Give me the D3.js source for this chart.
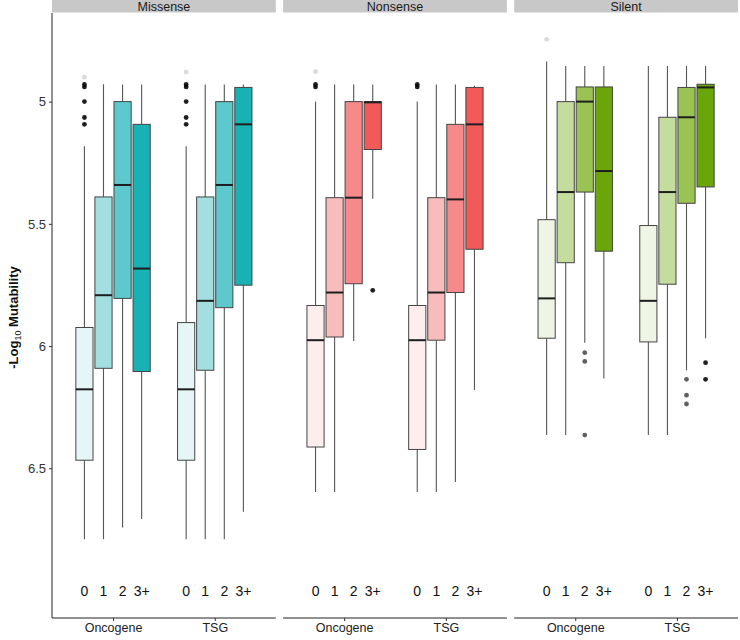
<!DOCTYPE html>
<html><head><meta charset="utf-8">
<script src="https://cdn.jsdelivr.net/npm/d3@7"></script>
<style>body{margin:0;background:#fff}svg{display:block}</style>
</head><body>
<svg id="chart" width="740" height="640"></svg>
<script>
// ---- data ----
const facets = ["Missense", "Nonsense", "Silent"];
const genes = ["Oncogene", "TSG"];
const levels = ["0", "1", "2", "3+"];
const yTicks = [5, 5.5, 6, 6.5];
const levelLabelValue = 7.0;

// [whiskerLow(value), q1, median, q3, whiskerHigh(value)], order: Oncogene 0..3+, TSG 0..3+
const missenseStats = [
  [5.183, 5.924, 6.177, 6.467, 6.79],
  [4.929, 5.390, 5.792, 6.091, 6.79],
  [4.930, 5.000, 5.341, 5.805, 6.742],
  [4.930, 5.093, 5.683, 6.104, 6.708],
  [5.183, 5.904, 6.177, 6.467, 6.79],
  [4.930, 5.390, 5.815, 6.099, 6.79],
  [4.930, 5.000, 5.341, 5.843, 6.79],
  [4.930, 4.942, 5.093, 5.751, 6.678]
];
const nonsenseStats = [
  [5.000, 5.834, 5.976, 6.413, 6.597],
  [4.930, 5.393, 5.781, 5.963, 6.597],
  [4.930, 5.000, 5.393, 5.745, 5.979],
  [4.930, 5.000, 5.003, 5.196, 5.397],
  [5.000, 5.834, 5.976, 6.423, 6.597],
  [4.930, 5.393, 5.781, 5.976, 6.597],
  [4.930, 5.093, 5.400, 5.781, 6.556],
  [4.935, 4.942, 5.093, 5.604, 6.180]
];
const silentStats = [
  [4.836, 5.483, 5.805, 5.968, 6.364],
  [4.854, 5.000, 5.370, 5.659, 6.364],
  [4.854, 4.940, 5.000, 5.370, 5.986],
  [4.854, 4.940, 5.284, 5.612, 6.133],
  [4.854, 5.507, 5.815, 5.983, 6.364],
  [4.854, 5.064, 5.370, 5.747, 6.364],
  [4.854, 4.942, 5.064, 5.416, 6.099],
  [4.854, 4.929, 4.942, 5.349, 5.968]
];
// outliers: [gene, level, value, overlapping count]
const missenseOutliers = [
  ["Oncogene","0",4.900,1],["Oncogene","0",4.930,13],["Oncogene","0",4.940,13],
  ["Oncogene","0",5.000,13],["Oncogene","0",5.065,13],["Oncogene","0",5.093,13],
  ["TSG","0",4.879,1],["TSG","0",4.930,13],["TSG","0",4.940,13],
  ["TSG","0",5.000,13],["TSG","0",5.065,13],["TSG","0",5.093,13]
];
const nonsenseOutliers = [
  ["Oncogene","0",4.877,1],["Oncogene","0",4.930,13],["Oncogene","0",4.940,13],
  ["Oncogene","3+",5.772,13],
  ["TSG","0",4.930,13],["TSG","0",4.940,13]
];
const silentOutliers = [
  ["Oncogene","0",4.745,1],
  ["Oncogene","2",6.027,6],["Oncogene","2",6.063,6],["Oncogene","2",6.364,6],
  ["TSG","2",6.136,6],["TSG","2",6.201,6],["TSG","2",6.237,6],
  ["TSG","3+",6.068,13],["TSG","3+",6.136,13]
];
const missenseColors = ["#e6f6f6", "#a3dfe0", "#5dc9cc", "#18b2b5"];
const nonsenseColors = ["#fdeded", "#f8bcbc", "#f68a8a", "#f25a5a"];
const silentColors   = ["#eef5e4", "#c5dc9f", "#9ac353", "#6aa50a"];

const facetData = [
  {name: facets[0], stats: missenseStats, outliers: missenseOutliers, colors: missenseColors},
  {name: facets[1], stats: nonsenseStats, outliers: nonsenseOutliers, colors: nonsenseColors},
  {name: facets[2], stats: silentStats, outliers: silentOutliers, colors: silentColors}
];

// ---- layout ----
const svg = d3.select("#chart");
const font = "'Liberation Sans', Arial, Helvetica, sans-serif";
const mLeft = 52, mRight = 738, mTop = 13, mBottom = 618, gap = 7.3;
const pw = (mRight - mLeft - 2 * gap) / 3;

const y = d3.scaleLinear().domain([4.6375, 7.1125]).range([mTop, mBottom]);

// Y axis
const yAxis = svg.append("g").attr("transform", `translate(${mLeft},0)`)
  .call(d3.axisLeft(y).tickValues(yTicks).tickSize(3).tickPadding(3).tickFormat(d3.format("")));
yAxis.select(".domain").attr("d", `M0,${mTop}V${mBottom}`).attr("stroke", "#222");
yAxis.selectAll(".tick line").attr("stroke", "#333");
yAxis.selectAll(".tick text").attr("font-family", font).attr("font-size", 13).attr("fill", "#333");

// Y title
const yt = svg.append("text")
  .attr("transform", `translate(18,${(mTop + mBottom) / 2 + 2}) rotate(-90)`)
  .attr("text-anchor", "middle").attr("font-family", font).attr("font-weight", "bold")
  .attr("font-size", 13).attr("fill", "#111");
yt.append("tspan").text("-Log");
yt.append("tspan").text("10").attr("font-size", 9).attr("font-weight", "normal").attr("dy", 3);
yt.append("tspan").text(" Mutability").attr("dy", -3);

const alpha = 0.15;

facetData.forEach((f, fi) => {
  const x0 = mLeft + fi * (pw + gap), x1 = x0 + pw;
  const x = d3.scalePoint().domain(genes).range([x0, x1]).padding(0.6);
  const step = x.step();
  const xl = d3.scaleBand().domain(levels).range([-0.375 * step, 0.375 * step]);
  const bw = xl.bandwidth() * 0.9;
  const cx = (g, l) => x(g) + xl(l) + xl.bandwidth() / 2;
  const g = svg.append("g");

  // strip
  g.append("rect").attr("x", x0).attr("y", 0).attr("width", pw).attr("height", 12.5).attr("fill", "#c8c8c8");
  g.append("text").attr("x", (x0 + x1) / 2).attr("y", 10.5).attr("text-anchor", "middle")
    .attr("font-family", font).attr("font-size", 12.5).attr("fill", "#1a1a1a").text(f.name);

  // boxes
  const rows = [];
  genes.forEach((gn, gi) => levels.forEach((lv, li) => {
    const s = f.stats[gi * 4 + li];
    rows.push({gene: gn, level: lv, li, s});
  }));
  rows.forEach(r => {
    const c = cx(r.gene, r.level);
    const [wl, q1, md, q3, wh] = r.s;
    g.append("line").attr("x1", c).attr("x2", c).attr("y1", y(wl)).attr("y2", y(q1))
      .attr("stroke", "#555").attr("stroke-width", 1.1);
    g.append("line").attr("x1", c).attr("x2", c).attr("y1", y(q3)).attr("y2", y(wh))
      .attr("stroke", "#555").attr("stroke-width", 1.1);
    g.append("rect").attr("x", c - bw / 2).attr("y", y(q1)).attr("width", bw).attr("height", y(q3) - y(q1))
      .attr("fill", f.colors[r.li]).attr("stroke", "#444").attr("stroke-width", 1);
    g.append("line").attr("x1", c - bw / 2).attr("x2", c + bw / 2).attr("y1", y(md)).attr("y2", y(md))
      .attr("stroke", "#1e1e1e").attr("stroke-width", 2);
  });

  // outliers
  f.outliers.forEach(([gn, lv, v, n]) => {
    g.append("circle").attr("cx", cx(gn, lv)).attr("cy", y(v)).attr("r", 2.4)
      .attr("fill", "#000").attr("fill-opacity", 1 - Math.pow(1 - alpha, n));
  });

  // level labels
  genes.forEach(gn => levels.forEach(lv => {
    g.append("text").attr("x", cx(gn, lv)).attr("y", y(levelLabelValue) + 5)
      .attr("text-anchor", "middle").attr("font-family", font).attr("font-size", 14)
      .attr("fill", "#111").text(lv);
  }));

  // x axis
  const xa = svg.append("g").attr("transform", `translate(0,${mBottom})`)
    .call(d3.axisBottom(x).tickSize(3).tickPadding(2));
  xa.select(".domain").attr("d", `M${x0},0H${x1}`).attr("stroke", "#222");
  xa.selectAll(".tick line").attr("stroke", "#333");
  xa.selectAll(".tick text").attr("font-family", font).attr("font-size", 12.5).attr("fill", "#222");
});
</script>
</body></html>
